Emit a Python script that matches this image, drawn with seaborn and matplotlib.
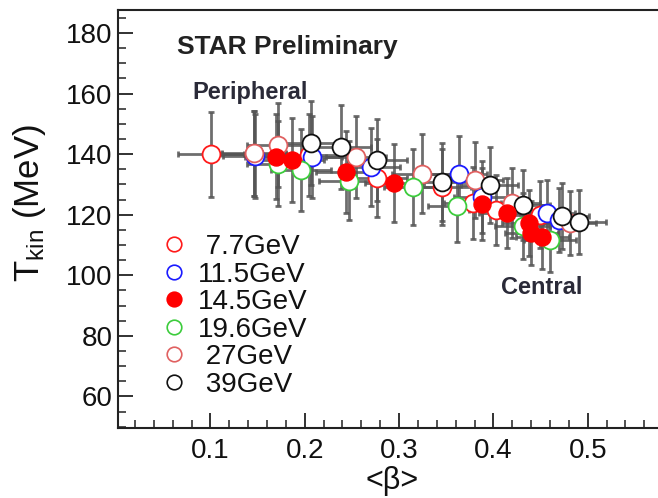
import matplotlib
matplotlib.use("Agg")
import numpy as np
import pandas as pd
import seaborn as sns
import matplotlib.pyplot as plt
from matplotlib.lines import Line2D
from matplotlib.ticker import MultipleLocator

# ---------------- data ----------------
energies = ["7.7GeV", "11.5GeV", "14.5GeV", "19.6GeV", "27GeV", "39GeV"]
legend_labels = [" 7.7GeV", "11.5GeV", "14.5GeV", "19.6GeV", " 27GeV", " 39GeV"]
colors = ["#ff1a1a", "#1a1aff", "#ff0000", "#3ccc3c", "#e06060", "#111111"]

beta_7p7 = [0.101, 0.146, 0.204, 0.277, 0.346, 0.378, 0.403, 0.449]
tkin_7p7 = [140.0, 140.1, 139.8, 132.1, 129.2, 123.9, 121.6, 120.0]
xerr_7p7 = [0.035, 0.034, 0.032, 0.031, 0.030, 0.030, 0.029, 0.028]
yerr_7p7 = [14.0, 14.0, 13.5, 13.0, 12.5, 12.0, 11.5, 11.0]

beta_11p5 = [0.147, 0.208, 0.270, 0.363, 0.388, 0.457, 0.470]
tkin_11p5 = [139.4, 139.1, 135.8, 133.5, 125.9, 120.6, 118.3]
xerr_11p5 = [0.034, 0.032, 0.031, 0.030, 0.030, 0.029, 0.028]
yerr_11p5 = [14.0, 13.5, 13.0, 12.5, 12.0, 11.0, 10.5]

beta_14p5 = [0.170, 0.187, 0.244, 0.295, 0.388, 0.414, 0.438, 0.440, 0.452]
tkin_14p5 = [139.1, 138.1, 134.1, 130.5, 123.6, 120.6, 117.3, 114.0, 112.7]
xerr_14p5 = [0.033, 0.033, 0.032, 0.031, 0.030, 0.029, 0.029, 0.028, 0.028]
yerr_14p5 = [14.0, 14.0, 13.5, 13.0, 12.0, 11.5, 11.0, 10.5, 10.5]

beta_19p6 = [0.172, 0.196, 0.247, 0.315, 0.361, 0.431, 0.460]
tkin_19p6 = [136.8, 134.8, 131.2, 129.2, 122.9, 116.3, 111.7]
xerr_19p6 = [0.033, 0.032, 0.032, 0.031, 0.030, 0.029, 0.028]
yerr_19p6 = [14.0, 13.5, 13.0, 12.5, 12.0, 11.0, 10.5]

beta_27 = [0.146, 0.172, 0.254, 0.324, 0.380, 0.420, 0.481]
tkin_27 = [140.3, 143.0, 139.1, 133.5, 131.5, 123.9, 117.3]
xerr_27 = [0.034, 0.033, 0.032, 0.031, 0.030, 0.029, 0.028]
yerr_27 = [14.0, 14.0, 13.5, 13.0, 12.5, 11.5, 10.5]

beta_39 = [0.207, 0.238, 0.277, 0.346, 0.396, 0.431, 0.473, 0.491]
tkin_39 = [143.7, 142.4, 138.1, 130.8, 129.8, 123.2, 119.6, 117.6]
xerr_39 = [0.032, 0.032, 0.031, 0.030, 0.030, 0.029, 0.028, 0.028]
yerr_39 = [14.0, 14.0, 13.5, 13.0, 12.5, 11.5, 11.0, 10.5]

series_beta = [beta_7p7, beta_11p5, beta_14p5, beta_19p6, beta_27, beta_39]
series_tkin = [tkin_7p7, tkin_11p5, tkin_14p5, tkin_19p6, tkin_27, tkin_39]
series_xerr = [xerr_7p7, xerr_11p5, xerr_14p5, xerr_19p6, xerr_27, xerr_39]
series_yerr = [yerr_7p7, yerr_11p5, yerr_14p5, yerr_19p6, yerr_27, yerr_39]
filled = [False, False, True, False, False, False]

frames = []
for e, b, t, xe, ye in zip(energies, series_beta, series_tkin, series_xerr, series_yerr):
    frames.append(pd.DataFrame({"energy": e, "beta": b, "tkin": t, "xerr": xe, "yerr": ye}))
df = pd.concat(frames, ignore_index=True)

# ---------------- style ----------------
sns.set_theme(style="white")
plt.rcParams["font.family"] = ["Liberation Sans", "DejaVu Sans"]
plt.rcParams["mathtext.fontset"] = "custom"
plt.rcParams["mathtext.rm"] = "Liberation Sans"
plt.rcParams["mathtext.it"] = "Liberation Sans:italic"

W, H = 658, 498
fig = plt.figure(figsize=(W / 100, H / 100), dpi=100)
ax = fig.add_axes([118 / W, 70 / H, 540 / W, 418 / H])

# error bars first
for e in energies:
    d = df[df.energy == e]
    ax.errorbar(d.beta, d.tkin, xerr=d.xerr, yerr=d.yerr, fmt="none",
                ecolor="#555555", elinewidth=2.0, capsize=2.2, capthick=2.0,
                alpha=0.85, zorder=2)

# markers (open ones first, filled 14.5 on top)
order = [0, 1, 4, 3, 5, 2]
for i in order:
    d = df[df.energy == energies[i]]
    if filled[i]:
        sns.scatterplot(data=d, x="beta", y="tkin", ax=ax, s=150, color=colors[i],
                        edgecolor=colors[i], linewidth=1.0, zorder=4, legend=False)
    else:
        sns.scatterplot(data=d, x="beta", y="tkin", ax=ax, s=165, color="white",
                        edgecolor=colors[i], linewidth=1.3, zorder=3, legend=False)

ax.set_xlim(0.002, 0.5745)
ax.set_ylim(49.6, 187.6)
ax.set_xticks([0.1, 0.2, 0.3, 0.4, 0.5])
ax.set_xticklabels(["0.1", "0.2", "0.3", "0.4", "0.5"])
ax.set_yticks([60, 80, 100, 120, 140, 160, 180])
ax.xaxis.set_minor_locator(MultipleLocator(0.02))
ax.yaxis.set_minor_locator(MultipleLocator(5))
ax.tick_params(axis="both", which="major", direction="in", length=11, width=1.3,
               color="#222222", labelsize=20, labelcolor="#111111")
ax.tick_params(axis="both", which="minor", direction="in", length=5.5, width=1.1,
               color="#222222")
ax.tick_params(axis="x", which="both", bottom=True, top=False, pad=7)
ax.tick_params(axis="y", which="both", left=True, right=False, pad=4)

for side in ["left", "bottom", "top"]:
    ax.spines[side].set_visible(True)
    ax.spines[side].set_color("#222222")
    ax.spines[side].set_linewidth(1.5)
ax.spines["right"].set_visible(False)

ax.set_xlabel("<β>", fontsize=22, color="#111111")
ax.xaxis.set_label_coords((392 - 118) / 540, (428 - 481) / 418)
ax.xaxis.label.set_va("center")
ax.set_ylabel(r"T$_{\mathregular{kin}}$ (MeV)", fontsize=25, color="#111111")
ax.yaxis.set_label_coords((30 - 118) / 540, (428 - 203) / 418)
ax.yaxis.label.set_va("center")

# annotations
fig.text(177 / W, 1 - 47 / H, "STAR Preliminary", fontsize=19, fontweight="bold",
         color="#222222", ha="left", va="center")
fig.text(250 / W, 1 - 93 / H, "Peripheral", fontsize=17, fontweight="bold",
         color="#2a2a38", ha="center", va="center")
fig.text(542 / W, 1 - 288 / H, "Central", fontsize=17, fontweight="bold",
         color="#2a2a38", ha="center", va="center")

# legend
handles = []
for i in range(len(energies)):
    handles.append(Line2D([], [], ls="", marker="o", markersize=10.5,
                          markerfacecolor=colors[i] if filled[i] else "white",
                          markeredgecolor=colors[i], markeredgewidth=1.2))
leg = ax.legend(handles, legend_labels, loc="upper left",
                bbox_to_anchor=(160 / W, 1 - 234 / H), bbox_transform=fig.transFigure,
                frameon=False, fontsize=20, handlelength=1.0, handletextpad=0.37,
                labelspacing=0.055, borderpad=0, borderaxespad=0)
for t in leg.get_texts():
    t.set_color("#111111")

fig.savefig("out.png", dpi=100)
